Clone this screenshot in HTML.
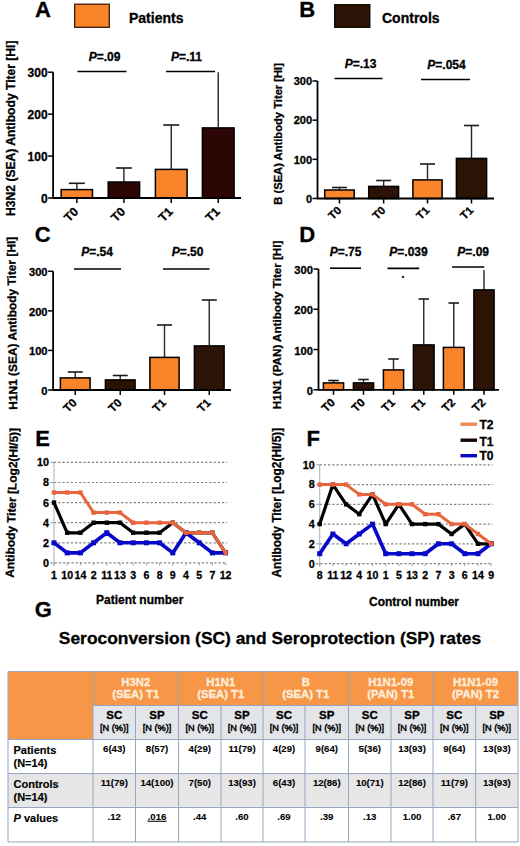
<!DOCTYPE html><html><head><meta charset="utf-8"><style>
html,body{margin:0;padding:0;background:#fff;width:520px;height:846px;overflow:hidden}
svg{display:block}
text{font-family:"Liberation Sans",sans-serif;stroke:#000;stroke-width:0.3px}
</style></head><body>
<svg width="520" height="846" viewBox="0 0 520 846">
<rect width="520" height="846" fill="#fff"/>
<text x="35" y="17.3" font-size="22" text-anchor="start" font-weight="bold" fill="#000" >A</text>
<text x="299.3" y="17.4" font-size="22" text-anchor="start" font-weight="bold" fill="#000" >B</text>
<text x="34.8" y="242.3" font-size="22" text-anchor="start" font-weight="bold" fill="#000" >C</text>
<text x="299.3" y="242.4" font-size="22" text-anchor="start" font-weight="bold" fill="#000" >D</text>
<text x="35.3" y="445.6" font-size="22" text-anchor="start" font-weight="bold" fill="#000" >E</text>
<text x="306.5" y="445.7" font-size="22" text-anchor="start" font-weight="bold" fill="#000" >F</text>
<text x="34.8" y="617.4" font-size="22" text-anchor="start" font-weight="bold" fill="#000" >G</text>
<rect x="74.7" y="4.2" width="34.6" height="23.1" fill="#FA8429" stroke="#3a1805" stroke-width="1.3"/>
<text x="129" y="23.1" font-size="14" text-anchor="start" font-weight="bold" fill="#000" >Patients</text>
<rect x="334.7" y="4.7" width="35.1" height="22.6" fill="#2C1305" stroke="#0a0401" stroke-width="1.3"/>
<text x="382" y="22.8" font-size="14" text-anchor="start" font-weight="bold" fill="#000" >Controls</text>
<line x1="53.1" y1="72.2" x2="53.1" y2="198.75" stroke="#000" stroke-width="1.8" />
<line x1="48.1" y1="198.0" x2="53.1" y2="198.0" stroke="#000" stroke-width="1.5" />
<text x="47.6" y="202.6" font-size="12" text-anchor="end" font-weight="bold" fill="#000" >0</text>
<line x1="48.1" y1="156.06666666666666" x2="53.1" y2="156.06666666666666" stroke="#000" stroke-width="1.5" />
<text x="47.6" y="160.66666666666666" font-size="12" text-anchor="end" font-weight="bold" fill="#000" >100</text>
<line x1="48.1" y1="114.13333333333333" x2="53.1" y2="114.13333333333333" stroke="#000" stroke-width="1.5" />
<text x="47.6" y="118.73333333333332" font-size="12" text-anchor="end" font-weight="bold" fill="#000" >200</text>
<line x1="48.1" y1="72.2" x2="53.1" y2="72.2" stroke="#000" stroke-width="1.5" />
<text x="47.6" y="76.8" font-size="12" text-anchor="end" font-weight="bold" fill="#000" >300</text>
<line x1="76.85" y1="183.3" x2="76.85" y2="190.2" stroke="#262626" stroke-width="1.4" />
<line x1="68.85" y1="183.3" x2="84.85" y2="183.3" stroke="#1a1a1a" stroke-width="1.6" />
<rect x="61.199999999999996" y="189.6" width="31.300000000000008" height="8.400000000000011" fill="#FA8429" stroke="#000" stroke-width="1.5"/>
<line x1="123.9" y1="168" x2="123.9" y2="182.6" stroke="#262626" stroke-width="1.4" />
<line x1="115.9" y1="168" x2="131.9" y2="168" stroke="#1a1a1a" stroke-width="1.6" />
<rect x="108.2" y="182.0" width="31.400000000000002" height="16.000000000000007" fill="#2C0604" stroke="#000" stroke-width="1.5"/>
<line x1="171.25" y1="125" x2="171.25" y2="170" stroke="#262626" stroke-width="1.4" />
<line x1="163.25" y1="125" x2="179.25" y2="125" stroke="#1a1a1a" stroke-width="1.6" />
<rect x="155.4" y="169.4" width="31.7" height="28.6" fill="#FA8429" stroke="#000" stroke-width="1.5"/>
<line x1="218.25" y1="72.2" x2="218.25" y2="128.5" stroke="#262626" stroke-width="1.4" />
<rect x="202.4" y="127.9" width="31.7" height="70.1" fill="#2C0604" stroke="#000" stroke-width="1.5"/>
<line x1="53.1" y1="198" x2="241" y2="198" stroke="#000" stroke-width="1.8" />
<line x1="76.85" y1="198" x2="76.85" y2="203" stroke="#000" stroke-width="1.5" />
<text font-size="12.2" font-weight="bold" text-anchor="end" transform="translate(79.05,212.5) rotate(-45)">T0</text>
<line x1="123.9" y1="198" x2="123.9" y2="203" stroke="#000" stroke-width="1.5" />
<text font-size="12.2" font-weight="bold" text-anchor="end" transform="translate(126.10000000000001,212.5) rotate(-45)">T0</text>
<line x1="171.25" y1="198" x2="171.25" y2="203" stroke="#000" stroke-width="1.5" />
<text font-size="12.2" font-weight="bold" text-anchor="end" transform="translate(173.45,212.5) rotate(-45)">T1</text>
<line x1="218.25" y1="198" x2="218.25" y2="203" stroke="#000" stroke-width="1.5" />
<text font-size="12.2" font-weight="bold" text-anchor="end" transform="translate(220.45,212.5) rotate(-45)">T1</text>
<text font-size="12.1" font-weight="bold" text-anchor="middle" transform="translate(14.8,128.2) rotate(-90)">H3N2 (SEA) Antibody Titer [HI]</text>
<line x1="77.5" y1="71.5" x2="126.5" y2="71.5" stroke="#000" stroke-width="1.6" />
<text x="104.6" y="60.8" font-size="12" text-anchor="middle" font-weight="bold"><tspan font-style="italic">P</tspan>=.09</text>
<line x1="166" y1="71.5" x2="215" y2="71.5" stroke="#000" stroke-width="1.6" />
<text x="186.5" y="60.8" font-size="12" text-anchor="middle" font-weight="bold"><tspan font-style="italic">P</tspan>=.11</text>
<line x1="317.5" y1="81" x2="317.5" y2="199.25" stroke="#000" stroke-width="1.8" />
<line x1="312.5" y1="198.5" x2="317.5" y2="198.5" stroke="#000" stroke-width="1.5" />
<text x="312.0" y="202.7" font-size="11" text-anchor="end" font-weight="bold" fill="#000" >0</text>
<line x1="312.5" y1="159.33333333333334" x2="317.5" y2="159.33333333333334" stroke="#000" stroke-width="1.5" />
<text x="312.0" y="163.53333333333333" font-size="11" text-anchor="end" font-weight="bold" fill="#000" >100</text>
<line x1="312.5" y1="120.16666666666667" x2="317.5" y2="120.16666666666667" stroke="#000" stroke-width="1.5" />
<text x="312.0" y="124.36666666666667" font-size="11" text-anchor="end" font-weight="bold" fill="#000" >200</text>
<line x1="312.5" y1="81.0" x2="317.5" y2="81.0" stroke="#000" stroke-width="1.5" />
<text x="312.0" y="85.2" font-size="11" text-anchor="end" font-weight="bold" fill="#000" >300</text>
<line x1="339.45000000000005" y1="187.5" x2="339.45000000000005" y2="190.6" stroke="#262626" stroke-width="1.4" />
<line x1="331.95000000000005" y1="187.5" x2="346.95000000000005" y2="187.5" stroke="#1a1a1a" stroke-width="1.6" />
<rect x="324.7" y="190.0" width="29.50000000000001" height="8.500000000000005" fill="#FA8429" stroke="#000" stroke-width="1.5"/>
<line x1="383.65" y1="180.5" x2="383.65" y2="187" stroke="#262626" stroke-width="1.4" />
<line x1="376.15" y1="180.5" x2="391.15" y2="180.5" stroke="#1a1a1a" stroke-width="1.6" />
<rect x="368.7" y="186.4" width="29.899999999999988" height="12.1" fill="#2B1406" stroke="#000" stroke-width="1.5"/>
<line x1="427.5" y1="164" x2="427.5" y2="180.5" stroke="#262626" stroke-width="1.4" />
<line x1="420.0" y1="164" x2="435.0" y2="164" stroke="#1a1a1a" stroke-width="1.6" />
<rect x="412.9" y="179.9" width="29.2" height="18.6" fill="#FA8429" stroke="#000" stroke-width="1.5"/>
<line x1="471.5" y1="125.5" x2="471.5" y2="159" stroke="#262626" stroke-width="1.4" />
<line x1="464.0" y1="125.5" x2="479.0" y2="125.5" stroke="#1a1a1a" stroke-width="1.6" />
<rect x="456.4" y="158.4" width="30.2" height="40.1" fill="#2B1406" stroke="#000" stroke-width="1.5"/>
<line x1="317.5" y1="198.5" x2="494" y2="198.5" stroke="#000" stroke-width="1.8" />
<line x1="339.45000000000005" y1="198.5" x2="339.45000000000005" y2="203.5" stroke="#000" stroke-width="1.5" />
<text font-size="11.2" font-weight="bold" text-anchor="end" transform="translate(342.05000000000007,211.0) rotate(-45)">T0</text>
<line x1="383.65" y1="198.5" x2="383.65" y2="203.5" stroke="#000" stroke-width="1.5" />
<text font-size="11.2" font-weight="bold" text-anchor="end" transform="translate(386.25,211.0) rotate(-45)">T0</text>
<line x1="427.5" y1="198.5" x2="427.5" y2="203.5" stroke="#000" stroke-width="1.5" />
<text font-size="11.2" font-weight="bold" text-anchor="end" transform="translate(430.1,211.0) rotate(-45)">T1</text>
<line x1="471.5" y1="198.5" x2="471.5" y2="203.5" stroke="#000" stroke-width="1.5" />
<text font-size="11.2" font-weight="bold" text-anchor="end" transform="translate(474.1,211.0) rotate(-45)">T1</text>
<text font-size="11.2" font-weight="bold" text-anchor="middle" transform="translate(282,133.9) rotate(-90)">B (SEA) Antibody Titer [HI]</text>
<line x1="334.5" y1="78.5" x2="382.5" y2="78.5" stroke="#000" stroke-width="1.6" />
<text x="360.5" y="68.2" font-size="12" text-anchor="middle" font-weight="bold"><tspan font-style="italic">P</tspan>=.13</text>
<line x1="421" y1="79.5" x2="470" y2="79.5" stroke="#000" stroke-width="1.6" />
<text x="446.5" y="68.8" font-size="12" text-anchor="middle" font-weight="bold"><tspan font-style="italic">P</tspan>=.054</text>
<line x1="53.1" y1="271.3" x2="53.1" y2="390.75" stroke="#000" stroke-width="1.8" />
<line x1="48.1" y1="390.0" x2="53.1" y2="390.0" stroke="#000" stroke-width="1.5" />
<text x="47.6" y="394.9" font-size="11.2" text-anchor="end" font-weight="bold" fill="#000" >0</text>
<line x1="48.1" y1="350.43333333333334" x2="53.1" y2="350.43333333333334" stroke="#000" stroke-width="1.5" />
<text x="47.6" y="355.3333333333333" font-size="11.2" text-anchor="end" font-weight="bold" fill="#000" >100</text>
<line x1="48.1" y1="310.8666666666667" x2="53.1" y2="310.8666666666667" stroke="#000" stroke-width="1.5" />
<text x="47.6" y="315.76666666666665" font-size="11.2" text-anchor="end" font-weight="bold" fill="#000" >200</text>
<line x1="48.1" y1="271.3" x2="53.1" y2="271.3" stroke="#000" stroke-width="1.5" />
<text x="47.6" y="276.2" font-size="11.2" text-anchor="end" font-weight="bold" fill="#000" >300</text>
<line x1="75.25" y1="372" x2="75.25" y2="378.5" stroke="#262626" stroke-width="1.4" />
<line x1="67.75" y1="372" x2="82.75" y2="372" stroke="#1a1a1a" stroke-width="1.6" />
<rect x="60.4" y="377.9" width="29.7" height="12.1" fill="#FA8429" stroke="#000" stroke-width="1.5"/>
<line x1="120.25" y1="375.5" x2="120.25" y2="380.5" stroke="#262626" stroke-width="1.4" />
<line x1="112.75" y1="375.5" x2="127.75" y2="375.5" stroke="#1a1a1a" stroke-width="1.6" />
<rect x="105.4" y="379.9" width="29.7" height="10.1" fill="#2B1406" stroke="#000" stroke-width="1.5"/>
<line x1="164.5" y1="325" x2="164.5" y2="358" stroke="#262626" stroke-width="1.4" />
<line x1="157.0" y1="325" x2="172.0" y2="325" stroke="#1a1a1a" stroke-width="1.6" />
<rect x="149.9" y="357.4" width="29.2" height="32.6" fill="#FA8429" stroke="#000" stroke-width="1.5"/>
<line x1="209.25" y1="300" x2="209.25" y2="346.5" stroke="#262626" stroke-width="1.4" />
<line x1="201.75" y1="300" x2="216.75" y2="300" stroke="#1a1a1a" stroke-width="1.6" />
<rect x="194.4" y="345.9" width="29.7" height="44.1" fill="#2B1406" stroke="#000" stroke-width="1.5"/>
<line x1="53.1" y1="390" x2="231" y2="390" stroke="#000" stroke-width="1.8" />
<line x1="75.25" y1="390" x2="75.25" y2="395" stroke="#000" stroke-width="1.5" />
<text font-size="11.5" font-weight="bold" text-anchor="end" transform="translate(77.45,403.6) rotate(-45)">T0</text>
<line x1="120.25" y1="390" x2="120.25" y2="395" stroke="#000" stroke-width="1.5" />
<text font-size="11.5" font-weight="bold" text-anchor="end" transform="translate(122.45,403.6) rotate(-45)">T0</text>
<line x1="164.5" y1="390" x2="164.5" y2="395" stroke="#000" stroke-width="1.5" />
<text font-size="11.5" font-weight="bold" text-anchor="end" transform="translate(166.7,403.6) rotate(-45)">T1</text>
<line x1="209.25" y1="390" x2="209.25" y2="395" stroke="#000" stroke-width="1.5" />
<text font-size="11.5" font-weight="bold" text-anchor="end" transform="translate(211.45,403.6) rotate(-45)">T1</text>
<text font-size="11.95" font-weight="bold" text-anchor="middle" transform="translate(16.3,323.2) rotate(-90.7)">H1N1 (SEA) Antibody Titer [HI]</text>
<line x1="74" y1="269" x2="121" y2="269" stroke="#000" stroke-width="1.6" />
<text x="97" y="256.2" font-size="12" text-anchor="middle" font-weight="bold"><tspan font-style="italic">P</tspan>=.54</text>
<line x1="163" y1="269" x2="209.5" y2="269" stroke="#000" stroke-width="1.6" />
<text x="187.5" y="256.2" font-size="12" text-anchor="middle" font-weight="bold"><tspan font-style="italic">P</tspan>=.50</text>
<line x1="318.5" y1="269" x2="318.5" y2="390.55" stroke="#000" stroke-width="1.8" />
<line x1="313.5" y1="389.8" x2="318.5" y2="389.8" stroke="#000" stroke-width="1.5" />
<text x="313.0" y="394.8" font-size="11.2" text-anchor="end" font-weight="bold" fill="#000" >0</text>
<line x1="313.5" y1="349.53333333333336" x2="318.5" y2="349.53333333333336" stroke="#000" stroke-width="1.5" />
<text x="313.0" y="354.53333333333336" font-size="11.2" text-anchor="end" font-weight="bold" fill="#000" >100</text>
<line x1="313.5" y1="309.26666666666665" x2="318.5" y2="309.26666666666665" stroke="#000" stroke-width="1.5" />
<text x="313.0" y="314.26666666666665" font-size="11.2" text-anchor="end" font-weight="bold" fill="#000" >200</text>
<line x1="313.5" y1="269.0" x2="318.5" y2="269.0" stroke="#000" stroke-width="1.5" />
<text x="313.0" y="274.0" font-size="11.2" text-anchor="end" font-weight="bold" fill="#000" >300</text>
<line x1="333.5" y1="380.5" x2="333.5" y2="383.5" stroke="#262626" stroke-width="1.4" />
<line x1="328.25" y1="380.5" x2="338.75" y2="380.5" stroke="#1a1a1a" stroke-width="1.6" />
<rect x="323.4" y="382.9" width="20.2" height="6.900000000000011" fill="#FA8429" stroke="#000" stroke-width="1.5"/>
<line x1="363.5" y1="379.5" x2="363.5" y2="383.5" stroke="#262626" stroke-width="1.4" />
<line x1="358.25" y1="379.5" x2="368.75" y2="379.5" stroke="#1a1a1a" stroke-width="1.6" />
<rect x="353.4" y="382.9" width="20.2" height="6.900000000000011" fill="#2B1406" stroke="#000" stroke-width="1.5"/>
<line x1="393.5" y1="359" x2="393.5" y2="370.5" stroke="#262626" stroke-width="1.4" />
<line x1="388.25" y1="359" x2="398.75" y2="359" stroke="#1a1a1a" stroke-width="1.6" />
<rect x="383.4" y="369.9" width="20.2" height="19.900000000000013" fill="#FA8429" stroke="#000" stroke-width="1.5"/>
<line x1="423.75" y1="299" x2="423.75" y2="345.5" stroke="#262626" stroke-width="1.4" />
<line x1="418.5" y1="299" x2="429.0" y2="299" stroke="#1a1a1a" stroke-width="1.6" />
<rect x="413.4" y="344.9" width="20.7" height="44.90000000000001" fill="#2B1406" stroke="#000" stroke-width="1.5"/>
<line x1="453.75" y1="303" x2="453.75" y2="348" stroke="#262626" stroke-width="1.4" />
<line x1="448.5" y1="303" x2="459.0" y2="303" stroke="#1a1a1a" stroke-width="1.6" />
<rect x="443.4" y="347.4" width="20.7" height="42.40000000000001" fill="#FA8429" stroke="#000" stroke-width="1.5"/>
<line x1="484.0" y1="270" x2="484.0" y2="290.5" stroke="#262626" stroke-width="1.4" />
<rect x="473.9" y="289.9" width="20.2" height="99.9" fill="#2B1406" stroke="#000" stroke-width="1.5"/>
<line x1="318.5" y1="389.8" x2="499" y2="389.8" stroke="#000" stroke-width="1.8" />
<line x1="333.5" y1="389.8" x2="333.5" y2="394.8" stroke="#000" stroke-width="1.5" />
<text font-size="11.5" font-weight="bold" text-anchor="end" transform="translate(335.7,403.2) rotate(-45)">T0</text>
<line x1="363.5" y1="389.8" x2="363.5" y2="394.8" stroke="#000" stroke-width="1.5" />
<text font-size="11.5" font-weight="bold" text-anchor="end" transform="translate(365.7,403.2) rotate(-45)">T0</text>
<line x1="393.5" y1="389.8" x2="393.5" y2="394.8" stroke="#000" stroke-width="1.5" />
<text font-size="11.5" font-weight="bold" text-anchor="end" transform="translate(395.7,403.2) rotate(-45)">T1</text>
<line x1="423.75" y1="389.8" x2="423.75" y2="394.8" stroke="#000" stroke-width="1.5" />
<text font-size="11.5" font-weight="bold" text-anchor="end" transform="translate(425.95,403.2) rotate(-45)">T1</text>
<line x1="453.75" y1="389.8" x2="453.75" y2="394.8" stroke="#000" stroke-width="1.5" />
<text font-size="11.5" font-weight="bold" text-anchor="end" transform="translate(455.95,403.2) rotate(-45)">T2</text>
<line x1="484.0" y1="389.8" x2="484.0" y2="394.8" stroke="#000" stroke-width="1.5" />
<text font-size="11.5" font-weight="bold" text-anchor="end" transform="translate(486.2,403.2) rotate(-45)">T2</text>
<text font-size="11.65" font-weight="bold" text-anchor="middle" transform="translate(281.4,324.9) rotate(-90)">H1N1 (PAN) Antibody Titer [HI]</text>
<line x1="330" y1="268.2" x2="361" y2="268.2" stroke="#000" stroke-width="1.6" />
<text x="345.5" y="256.2" font-size="12" text-anchor="middle" font-weight="bold"><tspan font-style="italic">P</tspan>=.75</text>
<line x1="387.5" y1="268.4" x2="419.2" y2="268.4" stroke="#000" stroke-width="1.6" />
<text x="408.5" y="256.2" font-size="12" text-anchor="middle" font-weight="bold"><tspan font-style="italic">P</tspan>=.039</text>
<line x1="452" y1="267" x2="484.2" y2="267" stroke="#000" stroke-width="1.6" />
<text x="473.2" y="256.2" font-size="12" text-anchor="middle" font-weight="bold"><tspan font-style="italic">P</tspan>=.09</text>
<circle cx="403" cy="277" r="1.3" fill="#333"/>
<line x1="54.0" y1="542.8" x2="227.09999999999997" y2="542.8" stroke="#808080" stroke-width="1.2" stroke-dasharray="2.2 2"/>
<line x1="50.5" y1="542.8" x2="54.0" y2="542.8" stroke="#9a9a9a" stroke-width="1" />
<line x1="54.0" y1="522.6999999999999" x2="227.09999999999997" y2="522.6999999999999" stroke="#808080" stroke-width="1.2" stroke-dasharray="2.2 2"/>
<line x1="50.5" y1="522.6999999999999" x2="54.0" y2="522.6999999999999" stroke="#9a9a9a" stroke-width="1" />
<line x1="54.0" y1="502.59999999999997" x2="227.09999999999997" y2="502.59999999999997" stroke="#808080" stroke-width="1.2" stroke-dasharray="2.2 2"/>
<line x1="50.5" y1="502.59999999999997" x2="54.0" y2="502.59999999999997" stroke="#9a9a9a" stroke-width="1" />
<line x1="54.0" y1="482.5" x2="227.09999999999997" y2="482.5" stroke="#808080" stroke-width="1.2" stroke-dasharray="2.2 2"/>
<line x1="50.5" y1="482.5" x2="54.0" y2="482.5" stroke="#9a9a9a" stroke-width="1" />
<line x1="54.0" y1="462.4" x2="227.09999999999997" y2="462.4" stroke="#808080" stroke-width="1.2" stroke-dasharray="2.2 2"/>
<line x1="50.5" y1="462.4" x2="54.0" y2="462.4" stroke="#9a9a9a" stroke-width="1" />
<line x1="54.0" y1="461.9" x2="54.0" y2="565.9" stroke="#b5b5b5" stroke-width="1.1" />
<line x1="50.5" y1="562.9" x2="227.09999999999997" y2="562.9" stroke="#808080" stroke-width="1.2" stroke-dasharray="2.2 2"/>
<line x1="54.0" y1="562.9" x2="54.0" y2="565.4" stroke="#999" stroke-width="1" />
<line x1="67.2" y1="562.9" x2="67.2" y2="565.4" stroke="#999" stroke-width="1" />
<line x1="80.4" y1="562.9" x2="80.4" y2="565.4" stroke="#999" stroke-width="1" />
<line x1="93.6" y1="562.9" x2="93.6" y2="565.4" stroke="#999" stroke-width="1" />
<line x1="106.8" y1="562.9" x2="106.8" y2="565.4" stroke="#999" stroke-width="1" />
<line x1="120.0" y1="562.9" x2="120.0" y2="565.4" stroke="#999" stroke-width="1" />
<line x1="133.2" y1="562.9" x2="133.2" y2="565.4" stroke="#999" stroke-width="1" />
<line x1="146.4" y1="562.9" x2="146.4" y2="565.4" stroke="#999" stroke-width="1" />
<line x1="159.6" y1="562.9" x2="159.6" y2="565.4" stroke="#999" stroke-width="1" />
<line x1="172.79999999999998" y1="562.9" x2="172.79999999999998" y2="565.4" stroke="#999" stroke-width="1" />
<line x1="186.0" y1="562.9" x2="186.0" y2="565.4" stroke="#999" stroke-width="1" />
<line x1="199.2" y1="562.9" x2="199.2" y2="565.4" stroke="#999" stroke-width="1" />
<line x1="212.39999999999998" y1="562.9" x2="212.39999999999998" y2="565.4" stroke="#999" stroke-width="1" />
<line x1="225.59999999999997" y1="562.9" x2="225.59999999999997" y2="565.4" stroke="#999" stroke-width="1" />
<text x="49.0" y="566.8" font-size="10.8" text-anchor="end" font-weight="bold" fill="#000" >0</text>
<text x="49.0" y="546.6999999999999" font-size="10.8" text-anchor="end" font-weight="bold" fill="#000" >2</text>
<text x="49.0" y="526.5999999999999" font-size="10.8" text-anchor="end" font-weight="bold" fill="#000" >4</text>
<text x="49.0" y="506.49999999999994" font-size="10.8" text-anchor="end" font-weight="bold" fill="#000" >6</text>
<text x="49.0" y="486.4" font-size="10.8" text-anchor="end" font-weight="bold" fill="#000" >8</text>
<text x="49.0" y="466.29999999999995" font-size="10.8" text-anchor="end" font-weight="bold" fill="#000" >10</text>
<text x="54.0" y="578.6" font-size="10.6" text-anchor="middle" font-weight="bold" fill="#000" >1</text>
<text x="67.2" y="578.6" font-size="10.6" text-anchor="middle" font-weight="bold" fill="#000" >10</text>
<text x="80.4" y="578.6" font-size="10.6" text-anchor="middle" font-weight="bold" fill="#000" >14</text>
<text x="93.6" y="578.6" font-size="10.6" text-anchor="middle" font-weight="bold" fill="#000" >2</text>
<text x="106.8" y="578.6" font-size="10.6" text-anchor="middle" font-weight="bold" fill="#000" >11</text>
<text x="120.0" y="578.6" font-size="10.6" text-anchor="middle" font-weight="bold" fill="#000" >13</text>
<text x="133.2" y="578.6" font-size="10.6" text-anchor="middle" font-weight="bold" fill="#000" >3</text>
<text x="146.4" y="578.6" font-size="10.6" text-anchor="middle" font-weight="bold" fill="#000" >6</text>
<text x="159.6" y="578.6" font-size="10.6" text-anchor="middle" font-weight="bold" fill="#000" >8</text>
<text x="172.79999999999998" y="578.6" font-size="10.6" text-anchor="middle" font-weight="bold" fill="#000" >9</text>
<text x="186.0" y="578.6" font-size="10.6" text-anchor="middle" font-weight="bold" fill="#000" >4</text>
<text x="199.2" y="578.6" font-size="10.6" text-anchor="middle" font-weight="bold" fill="#000" >5</text>
<text x="212.39999999999998" y="578.6" font-size="10.6" text-anchor="middle" font-weight="bold" fill="#000" >7</text>
<text x="225.59999999999997" y="578.6" font-size="10.6" text-anchor="middle" font-weight="bold" fill="#000" >12</text>
<polyline points="54.0,542.8 67.2,552.9 80.4,552.9 93.6,542.8 106.8,532.8 120.0,542.8 133.2,542.8 146.4,542.8 159.6,542.8 172.8,552.9 186.0,532.8 199.2,542.8 212.4,552.9 225.6,552.9" fill="none" stroke="#0808C8" stroke-width="3.6" stroke-linejoin="round"/>
<rect x="51.5" y="540.3" width="5.0" height="5.0" fill="#0808C8"/>
<rect x="64.7" y="550.4" width="5.0" height="5.0" fill="#0808C8"/>
<rect x="77.9" y="550.4" width="5.0" height="5.0" fill="#0808C8"/>
<rect x="91.1" y="540.3" width="5.0" height="5.0" fill="#0808C8"/>
<rect x="104.3" y="530.2" width="5.0" height="5.0" fill="#0808C8"/>
<rect x="117.5" y="540.3" width="5.0" height="5.0" fill="#0808C8"/>
<rect x="130.7" y="540.3" width="5.0" height="5.0" fill="#0808C8"/>
<rect x="143.9" y="540.3" width="5.0" height="5.0" fill="#0808C8"/>
<rect x="157.1" y="540.3" width="5.0" height="5.0" fill="#0808C8"/>
<rect x="170.3" y="550.4" width="5.0" height="5.0" fill="#0808C8"/>
<rect x="183.5" y="530.2" width="5.0" height="5.0" fill="#0808C8"/>
<rect x="196.7" y="540.3" width="5.0" height="5.0" fill="#0808C8"/>
<rect x="209.9" y="550.4" width="5.0" height="5.0" fill="#0808C8"/>
<rect x="223.1" y="550.4" width="5.0" height="5.0" fill="#0808C8"/>
<polyline points="54.0,502.6 67.2,532.8 80.4,532.8 93.6,522.7 106.8,522.7 120.0,522.7 133.2,532.8 146.4,532.8 159.6,532.8 172.8,522.7 186.0,532.8 199.2,532.8 212.4,532.8 225.6,552.9" fill="none" stroke="#000" stroke-width="3.2" stroke-linejoin="round"/>
<rect x="51.8" y="500.4" width="4.4" height="4.4" fill="#000"/>
<rect x="65.0" y="530.5" width="4.4" height="4.4" fill="#000"/>
<rect x="78.2" y="530.5" width="4.4" height="4.4" fill="#000"/>
<rect x="91.4" y="520.5" width="4.4" height="4.4" fill="#000"/>
<rect x="104.6" y="520.5" width="4.4" height="4.4" fill="#000"/>
<rect x="117.8" y="520.5" width="4.4" height="4.4" fill="#000"/>
<rect x="131.0" y="530.5" width="4.4" height="4.4" fill="#000"/>
<rect x="144.2" y="530.5" width="4.4" height="4.4" fill="#000"/>
<rect x="157.4" y="530.5" width="4.4" height="4.4" fill="#000"/>
<rect x="170.6" y="520.5" width="4.4" height="4.4" fill="#000"/>
<rect x="183.8" y="530.5" width="4.4" height="4.4" fill="#000"/>
<rect x="197.0" y="530.5" width="4.4" height="4.4" fill="#000"/>
<rect x="210.2" y="530.5" width="4.4" height="4.4" fill="#000"/>
<rect x="223.4" y="550.6" width="4.4" height="4.4" fill="#000"/>
<polyline points="54.0,492.5 67.2,492.5 80.4,492.5 93.6,512.6 106.8,512.6 120.0,512.6 133.2,522.7 146.4,522.7 159.6,522.7 172.8,522.7 186.0,532.8 199.2,532.8 212.4,532.8 225.6,552.9" fill="none" stroke="#E8643C" stroke-width="3.0" stroke-linejoin="round"/>
<rect x="51.8" y="490.3" width="4.4" height="4.4" fill="#E8643C"/>
<rect x="65.0" y="490.3" width="4.4" height="4.4" fill="#E8643C"/>
<rect x="78.2" y="490.3" width="4.4" height="4.4" fill="#E8643C"/>
<rect x="91.4" y="510.4" width="4.4" height="4.4" fill="#E8643C"/>
<rect x="104.6" y="510.4" width="4.4" height="4.4" fill="#E8643C"/>
<rect x="117.8" y="510.4" width="4.4" height="4.4" fill="#E8643C"/>
<rect x="131.0" y="520.5" width="4.4" height="4.4" fill="#E8643C"/>
<rect x="144.2" y="520.5" width="4.4" height="4.4" fill="#E8643C"/>
<rect x="157.4" y="520.5" width="4.4" height="4.4" fill="#E8643C"/>
<rect x="170.6" y="520.5" width="4.4" height="4.4" fill="#E8643C"/>
<rect x="183.8" y="530.5" width="4.4" height="4.4" fill="#E8643C"/>
<rect x="197.0" y="530.5" width="4.4" height="4.4" fill="#E8643C"/>
<rect x="210.2" y="530.5" width="4.4" height="4.4" fill="#E8643C"/>
<rect x="223.4" y="550.6" width="4.4" height="4.4" fill="#E8643C"/>
<text font-size="11.9" font-weight="bold" text-anchor="middle" transform="translate(15.9,502.9) rotate(-88.3)">Antibody Titer [Log2(HI/5)]</text>
<line x1="319.7" y1="543.84" x2="492.7" y2="543.84" stroke="#808080" stroke-width="1.2" stroke-dasharray="2.2 2"/>
<line x1="316.2" y1="543.84" x2="319.7" y2="543.84" stroke="#9a9a9a" stroke-width="1" />
<line x1="319.7" y1="524.08" x2="492.7" y2="524.08" stroke="#808080" stroke-width="1.2" stroke-dasharray="2.2 2"/>
<line x1="316.2" y1="524.08" x2="319.7" y2="524.08" stroke="#9a9a9a" stroke-width="1" />
<line x1="319.7" y1="504.32" x2="492.7" y2="504.32" stroke="#808080" stroke-width="1.2" stroke-dasharray="2.2 2"/>
<line x1="316.2" y1="504.32" x2="319.7" y2="504.32" stroke="#9a9a9a" stroke-width="1" />
<line x1="319.7" y1="484.56" x2="492.7" y2="484.56" stroke="#808080" stroke-width="1.2" stroke-dasharray="2.2 2"/>
<line x1="316.2" y1="484.56" x2="319.7" y2="484.56" stroke="#9a9a9a" stroke-width="1" />
<line x1="319.7" y1="464.8" x2="492.7" y2="464.8" stroke="#808080" stroke-width="1.2" stroke-dasharray="2.2 2"/>
<line x1="316.2" y1="464.8" x2="319.7" y2="464.8" stroke="#9a9a9a" stroke-width="1" />
<line x1="319.7" y1="464.3" x2="319.7" y2="566.6" stroke="#b5b5b5" stroke-width="1.1" />
<line x1="316.2" y1="563.6" x2="492.7" y2="563.6" stroke="#808080" stroke-width="1.2" stroke-dasharray="2.2 2"/>
<line x1="319.7" y1="563.6" x2="319.7" y2="566.1" stroke="#999" stroke-width="1" />
<line x1="332.89230769230767" y1="563.6" x2="332.89230769230767" y2="566.1" stroke="#999" stroke-width="1" />
<line x1="346.08461538461535" y1="563.6" x2="346.08461538461535" y2="566.1" stroke="#999" stroke-width="1" />
<line x1="359.2769230769231" y1="563.6" x2="359.2769230769231" y2="566.1" stroke="#999" stroke-width="1" />
<line x1="372.46923076923076" y1="563.6" x2="372.46923076923076" y2="566.1" stroke="#999" stroke-width="1" />
<line x1="385.66153846153844" y1="563.6" x2="385.66153846153844" y2="566.1" stroke="#999" stroke-width="1" />
<line x1="398.8538461538461" y1="563.6" x2="398.8538461538461" y2="566.1" stroke="#999" stroke-width="1" />
<line x1="412.04615384615386" y1="563.6" x2="412.04615384615386" y2="566.1" stroke="#999" stroke-width="1" />
<line x1="425.23846153846154" y1="563.6" x2="425.23846153846154" y2="566.1" stroke="#999" stroke-width="1" />
<line x1="438.4307692307692" y1="563.6" x2="438.4307692307692" y2="566.1" stroke="#999" stroke-width="1" />
<line x1="451.62307692307695" y1="563.6" x2="451.62307692307695" y2="566.1" stroke="#999" stroke-width="1" />
<line x1="464.8153846153846" y1="563.6" x2="464.8153846153846" y2="566.1" stroke="#999" stroke-width="1" />
<line x1="478.0076923076923" y1="563.6" x2="478.0076923076923" y2="566.1" stroke="#999" stroke-width="1" />
<line x1="491.2" y1="563.6" x2="491.2" y2="566.1" stroke="#999" stroke-width="1" />
<text x="314.7" y="567.5" font-size="10.8" text-anchor="end" font-weight="bold" fill="#000" >0</text>
<text x="314.7" y="547.74" font-size="10.8" text-anchor="end" font-weight="bold" fill="#000" >2</text>
<text x="314.7" y="527.98" font-size="10.8" text-anchor="end" font-weight="bold" fill="#000" >4</text>
<text x="314.7" y="508.21999999999997" font-size="10.8" text-anchor="end" font-weight="bold" fill="#000" >6</text>
<text x="314.7" y="488.46" font-size="10.8" text-anchor="end" font-weight="bold" fill="#000" >8</text>
<text x="314.7" y="468.7" font-size="10.8" text-anchor="end" font-weight="bold" fill="#000" >10</text>
<text x="319.7" y="579.0" font-size="10.6" text-anchor="middle" font-weight="bold" fill="#000" >8</text>
<text x="332.89230769230767" y="579.0" font-size="10.6" text-anchor="middle" font-weight="bold" fill="#000" >11</text>
<text x="346.08461538461535" y="579.0" font-size="10.6" text-anchor="middle" font-weight="bold" fill="#000" >12</text>
<text x="359.2769230769231" y="579.0" font-size="10.6" text-anchor="middle" font-weight="bold" fill="#000" >4</text>
<text x="372.46923076923076" y="579.0" font-size="10.6" text-anchor="middle" font-weight="bold" fill="#000" >10</text>
<text x="385.66153846153844" y="579.0" font-size="10.6" text-anchor="middle" font-weight="bold" fill="#000" >1</text>
<text x="398.8538461538461" y="579.0" font-size="10.6" text-anchor="middle" font-weight="bold" fill="#000" >5</text>
<text x="412.04615384615386" y="579.0" font-size="10.6" text-anchor="middle" font-weight="bold" fill="#000" >13</text>
<text x="425.23846153846154" y="579.0" font-size="10.6" text-anchor="middle" font-weight="bold" fill="#000" >2</text>
<text x="438.4307692307692" y="579.0" font-size="10.6" text-anchor="middle" font-weight="bold" fill="#000" >7</text>
<text x="451.62307692307695" y="579.0" font-size="10.6" text-anchor="middle" font-weight="bold" fill="#000" >3</text>
<text x="464.8153846153846" y="579.0" font-size="10.6" text-anchor="middle" font-weight="bold" fill="#000" >6</text>
<text x="478.0076923076923" y="579.0" font-size="10.6" text-anchor="middle" font-weight="bold" fill="#000" >14</text>
<text x="491.2" y="579.0" font-size="10.6" text-anchor="middle" font-weight="bold" fill="#000" >9</text>
<polyline points="319.7,553.7 332.9,534.0 346.1,543.8 359.3,534.0 372.5,524.1 385.7,553.7 398.9,553.7 412.0,553.7 425.2,553.7 438.4,543.8 451.6,543.8 464.8,553.7 478.0,553.7 491.2,543.8" fill="none" stroke="#0808C8" stroke-width="3.6" stroke-linejoin="round"/>
<rect x="317.2" y="551.2" width="5.0" height="5.0" fill="#0808C8"/>
<rect x="330.4" y="531.5" width="5.0" height="5.0" fill="#0808C8"/>
<rect x="343.6" y="541.3" width="5.0" height="5.0" fill="#0808C8"/>
<rect x="356.8" y="531.5" width="5.0" height="5.0" fill="#0808C8"/>
<rect x="370.0" y="521.6" width="5.0" height="5.0" fill="#0808C8"/>
<rect x="383.2" y="551.2" width="5.0" height="5.0" fill="#0808C8"/>
<rect x="396.4" y="551.2" width="5.0" height="5.0" fill="#0808C8"/>
<rect x="409.5" y="551.2" width="5.0" height="5.0" fill="#0808C8"/>
<rect x="422.7" y="551.2" width="5.0" height="5.0" fill="#0808C8"/>
<rect x="435.9" y="541.3" width="5.0" height="5.0" fill="#0808C8"/>
<rect x="449.1" y="541.3" width="5.0" height="5.0" fill="#0808C8"/>
<rect x="462.3" y="551.2" width="5.0" height="5.0" fill="#0808C8"/>
<rect x="475.5" y="551.2" width="5.0" height="5.0" fill="#0808C8"/>
<rect x="488.7" y="541.3" width="5.0" height="5.0" fill="#0808C8"/>
<polyline points="319.7,524.1 332.9,484.6 346.1,504.3 359.3,514.2 372.5,494.4 385.7,524.1 398.9,504.3 412.0,524.1 425.2,524.1 438.4,524.1 451.6,534.0 464.8,524.1 478.0,543.8 491.2,543.8" fill="none" stroke="#000" stroke-width="3.2" stroke-linejoin="round"/>
<rect x="317.5" y="521.9" width="4.4" height="4.4" fill="#000"/>
<rect x="330.7" y="482.4" width="4.4" height="4.4" fill="#000"/>
<rect x="343.9" y="502.1" width="4.4" height="4.4" fill="#000"/>
<rect x="357.1" y="512.0" width="4.4" height="4.4" fill="#000"/>
<rect x="370.3" y="492.2" width="4.4" height="4.4" fill="#000"/>
<rect x="383.5" y="521.9" width="4.4" height="4.4" fill="#000"/>
<rect x="396.7" y="502.1" width="4.4" height="4.4" fill="#000"/>
<rect x="409.8" y="521.9" width="4.4" height="4.4" fill="#000"/>
<rect x="423.0" y="521.9" width="4.4" height="4.4" fill="#000"/>
<rect x="436.2" y="521.9" width="4.4" height="4.4" fill="#000"/>
<rect x="449.4" y="531.8" width="4.4" height="4.4" fill="#000"/>
<rect x="462.6" y="521.9" width="4.4" height="4.4" fill="#000"/>
<rect x="475.8" y="541.6" width="4.4" height="4.4" fill="#000"/>
<rect x="489.0" y="541.6" width="4.4" height="4.4" fill="#000"/>
<polyline points="319.7,484.6 332.9,484.6 346.1,484.6 359.3,494.4 372.5,494.4 385.7,504.3 398.9,504.3 412.0,504.3 425.2,514.2 438.4,514.2 451.6,524.1 464.8,524.1 478.0,534.0 491.2,543.8" fill="none" stroke="#E8643C" stroke-width="3.0" stroke-linejoin="round"/>
<rect x="317.5" y="482.4" width="4.4" height="4.4" fill="#E8643C"/>
<rect x="330.7" y="482.4" width="4.4" height="4.4" fill="#E8643C"/>
<rect x="343.9" y="482.4" width="4.4" height="4.4" fill="#E8643C"/>
<rect x="357.1" y="492.2" width="4.4" height="4.4" fill="#E8643C"/>
<rect x="370.3" y="492.2" width="4.4" height="4.4" fill="#E8643C"/>
<rect x="383.5" y="502.1" width="4.4" height="4.4" fill="#E8643C"/>
<rect x="396.7" y="502.1" width="4.4" height="4.4" fill="#E8643C"/>
<rect x="409.8" y="502.1" width="4.4" height="4.4" fill="#E8643C"/>
<rect x="423.0" y="512.0" width="4.4" height="4.4" fill="#E8643C"/>
<rect x="436.2" y="512.0" width="4.4" height="4.4" fill="#E8643C"/>
<rect x="449.4" y="521.9" width="4.4" height="4.4" fill="#E8643C"/>
<rect x="462.6" y="521.9" width="4.4" height="4.4" fill="#E8643C"/>
<rect x="475.8" y="531.8" width="4.4" height="4.4" fill="#E8643C"/>
<rect x="489.0" y="541.6" width="4.4" height="4.4" fill="#E8643C"/>
<text font-size="11.9" font-weight="bold" text-anchor="middle" transform="translate(281.4,502.7) rotate(-90)">Antibody Titer [Log2(HI/5)]</text>
<line x1="460.5" y1="424.2" x2="477" y2="424.2" stroke="#EE8A52" stroke-width="3.4" />
<text x="479.5" y="428.5" font-size="12" text-anchor="start" font-weight="bold" fill="#000" >T2</text>
<line x1="460.5" y1="440.2" x2="477" y2="440.2" stroke="#120604" stroke-width="3.4" />
<text x="479.5" y="445.8" font-size="12" text-anchor="start" font-weight="bold" fill="#000" >T1</text>
<line x1="460.5" y1="455.7" x2="477" y2="455.7" stroke="#0808C8" stroke-width="3.4" />
<text x="479.5" y="460.0" font-size="12" text-anchor="start" font-weight="bold" fill="#000" >T0</text>
<text x="96" y="603.8" font-size="12" text-anchor="start" font-weight="bold" fill="#000" >Patient number</text>
<text x="369" y="605.5" font-size="12" text-anchor="start" font-weight="bold" fill="#000" >Control number</text>
<text x="270" y="644" font-size="17.4" text-anchor="middle" font-weight="bold" fill="#000" >Seroconversion (SC) and Seroprotection (SP) rates</text>
<rect x="8" y="671.5" width="510" height="68.0" fill="#F79646"/>
<rect x="93" y="705.5" width="425" height="34.0" fill="#E3E5E9"/>
<rect x="8" y="773.5" width="510" height="34.0" fill="#E6E6E6"/>
<line x1="8" y1="671.5" x2="518" y2="671.5" stroke="#97A4C2" stroke-width="1" />
<line x1="93" y1="705.5" x2="518" y2="705.5" stroke="#97A4C2" stroke-width="1" />
<line x1="8" y1="739.5" x2="518" y2="739.5" stroke="#97A4C2" stroke-width="1" />
<line x1="8" y1="773.5" x2="518" y2="773.5" stroke="#97A4C2" stroke-width="1" />
<line x1="8" y1="807.5" x2="518" y2="807.5" stroke="#97A4C2" stroke-width="1" />
<line x1="8" y1="842" x2="518" y2="842" stroke="#97A4C2" stroke-width="1" />
<line x1="8" y1="671.5" x2="8" y2="842" stroke="#97A4C2" stroke-width="1" />
<line x1="93" y1="671.5" x2="93" y2="842" stroke="#97A4C2" stroke-width="1" />
<line x1="135.5" y1="705.5" x2="135.5" y2="842" stroke="#97A4C2" stroke-width="1" />
<line x1="178.5" y1="671.5" x2="178.5" y2="842" stroke="#97A4C2" stroke-width="1" />
<line x1="221" y1="705.5" x2="221" y2="842" stroke="#97A4C2" stroke-width="1" />
<line x1="263" y1="671.5" x2="263" y2="842" stroke="#97A4C2" stroke-width="1" />
<line x1="305" y1="705.5" x2="305" y2="842" stroke="#97A4C2" stroke-width="1" />
<line x1="348.5" y1="671.5" x2="348.5" y2="842" stroke="#97A4C2" stroke-width="1" />
<line x1="391" y1="705.5" x2="391" y2="842" stroke="#97A4C2" stroke-width="1" />
<line x1="433" y1="671.5" x2="433" y2="842" stroke="#97A4C2" stroke-width="1" />
<line x1="475.7" y1="705.5" x2="475.7" y2="842" stroke="#97A4C2" stroke-width="1" />
<line x1="518" y1="671.5" x2="518" y2="842" stroke="#97A4C2" stroke-width="1" />
<text x="135.75" y="685.6" font-size="11.3" text-anchor="middle" font-weight="bold" fill="#FDEEDC" style="stroke:#FDEEDC" >H3N2</text>
<text x="135.75" y="698.3" font-size="11.3" text-anchor="middle" font-weight="bold" fill="#FDEEDC" style="stroke:#FDEEDC" >(SEA) T1</text>
<text x="220.75" y="685.6" font-size="11.3" text-anchor="middle" font-weight="bold" fill="#FDEEDC" style="stroke:#FDEEDC" >H1N1</text>
<text x="220.75" y="698.3" font-size="11.3" text-anchor="middle" font-weight="bold" fill="#FDEEDC" style="stroke:#FDEEDC" >(SEA) T1</text>
<text x="305.75" y="685.6" font-size="11.3" text-anchor="middle" font-weight="bold" fill="#FDEEDC" style="stroke:#FDEEDC" >B</text>
<text x="305.75" y="698.3" font-size="11.3" text-anchor="middle" font-weight="bold" fill="#FDEEDC" style="stroke:#FDEEDC" >(SEA) T1</text>
<text x="390.75" y="685.6" font-size="11.3" text-anchor="middle" font-weight="bold" fill="#FDEEDC" style="stroke:#FDEEDC" >H1N1-09</text>
<text x="390.75" y="698.3" font-size="11.3" text-anchor="middle" font-weight="bold" fill="#FDEEDC" style="stroke:#FDEEDC" >(PAN) T1</text>
<text x="475.5" y="685.6" font-size="11.3" text-anchor="middle" font-weight="bold" fill="#FDEEDC" style="stroke:#FDEEDC" >H1N1-09</text>
<text x="475.5" y="698.3" font-size="11.3" text-anchor="middle" font-weight="bold" fill="#FDEEDC" style="stroke:#FDEEDC" >(PAN) T2</text>
<text x="114.25" y="719.3" font-size="11.5" text-anchor="middle" font-weight="bold" fill="#000" >SC</text>
<text x="114.25" y="731.2" font-size="9.2" text-anchor="middle" font-weight="normal" fill="#000" style="stroke-width:0.45px">[N (%)]</text>
<text x="157.0" y="719.3" font-size="11.5" text-anchor="middle" font-weight="bold" fill="#000" >SP</text>
<text x="157.0" y="731.2" font-size="9.2" text-anchor="middle" font-weight="normal" fill="#000" style="stroke-width:0.45px">[N (%)]</text>
<text x="199.75" y="719.3" font-size="11.5" text-anchor="middle" font-weight="bold" fill="#000" >SC</text>
<text x="199.75" y="731.2" font-size="9.2" text-anchor="middle" font-weight="normal" fill="#000" style="stroke-width:0.45px">[N (%)]</text>
<text x="242.0" y="719.3" font-size="11.5" text-anchor="middle" font-weight="bold" fill="#000" >SP</text>
<text x="242.0" y="731.2" font-size="9.2" text-anchor="middle" font-weight="normal" fill="#000" style="stroke-width:0.45px">[N (%)]</text>
<text x="284.0" y="719.3" font-size="11.5" text-anchor="middle" font-weight="bold" fill="#000" >SC</text>
<text x="284.0" y="731.2" font-size="9.2" text-anchor="middle" font-weight="normal" fill="#000" style="stroke-width:0.45px">[N (%)]</text>
<text x="326.75" y="719.3" font-size="11.5" text-anchor="middle" font-weight="bold" fill="#000" >SP</text>
<text x="326.75" y="731.2" font-size="9.2" text-anchor="middle" font-weight="normal" fill="#000" style="stroke-width:0.45px">[N (%)]</text>
<text x="369.75" y="719.3" font-size="11.5" text-anchor="middle" font-weight="bold" fill="#000" >SC</text>
<text x="369.75" y="731.2" font-size="9.2" text-anchor="middle" font-weight="normal" fill="#000" style="stroke-width:0.45px">[N (%)]</text>
<text x="412.0" y="719.3" font-size="11.5" text-anchor="middle" font-weight="bold" fill="#000" >SP</text>
<text x="412.0" y="731.2" font-size="9.2" text-anchor="middle" font-weight="normal" fill="#000" style="stroke-width:0.45px">[N (%)]</text>
<text x="454.35" y="719.3" font-size="11.5" text-anchor="middle" font-weight="bold" fill="#000" >SC</text>
<text x="454.35" y="731.2" font-size="9.2" text-anchor="middle" font-weight="normal" fill="#000" style="stroke-width:0.45px">[N (%)]</text>
<text x="496.85" y="719.3" font-size="11.5" text-anchor="middle" font-weight="bold" fill="#000" >SP</text>
<text x="496.85" y="731.2" font-size="9.2" text-anchor="middle" font-weight="normal" fill="#000" style="stroke-width:0.45px">[N (%)]</text>
<text x="114.25" y="751.9" font-size="9.6" text-anchor="middle" font-weight="bold" fill="#000" style="stroke-width:0.1px">6(43)</text>
<text x="157.0" y="751.9" font-size="9.6" text-anchor="middle" font-weight="bold" fill="#000" style="stroke-width:0.1px">8(57)</text>
<text x="199.75" y="751.9" font-size="9.6" text-anchor="middle" font-weight="bold" fill="#000" style="stroke-width:0.1px">4(29)</text>
<text x="242.0" y="751.9" font-size="9.6" text-anchor="middle" font-weight="bold" fill="#000" style="stroke-width:0.1px">11(79)</text>
<text x="284.0" y="751.9" font-size="9.6" text-anchor="middle" font-weight="bold" fill="#000" style="stroke-width:0.1px">4(29)</text>
<text x="326.75" y="751.9" font-size="9.6" text-anchor="middle" font-weight="bold" fill="#000" style="stroke-width:0.1px">9(64)</text>
<text x="369.75" y="751.9" font-size="9.6" text-anchor="middle" font-weight="bold" fill="#000" style="stroke-width:0.1px">5(36)</text>
<text x="412.0" y="751.9" font-size="9.6" text-anchor="middle" font-weight="bold" fill="#000" style="stroke-width:0.1px">13(93)</text>
<text x="454.35" y="751.9" font-size="9.6" text-anchor="middle" font-weight="bold" fill="#000" style="stroke-width:0.1px">9(64)</text>
<text x="496.85" y="751.9" font-size="9.6" text-anchor="middle" font-weight="bold" fill="#000" style="stroke-width:0.1px">13(93)</text>
<text x="114.25" y="786.0" font-size="9.6" text-anchor="middle" font-weight="bold" fill="#000" style="stroke-width:0.1px">11(79)</text>
<text x="157.0" y="786.0" font-size="9.6" text-anchor="middle" font-weight="bold" fill="#000" style="stroke-width:0.1px">14(100)</text>
<text x="199.75" y="786.0" font-size="9.6" text-anchor="middle" font-weight="bold" fill="#000" style="stroke-width:0.1px">7(50)</text>
<text x="242.0" y="786.0" font-size="9.6" text-anchor="middle" font-weight="bold" fill="#000" style="stroke-width:0.1px">13(93)</text>
<text x="284.0" y="786.0" font-size="9.6" text-anchor="middle" font-weight="bold" fill="#000" style="stroke-width:0.1px">6(43)</text>
<text x="326.75" y="786.0" font-size="9.6" text-anchor="middle" font-weight="bold" fill="#000" style="stroke-width:0.1px">12(86)</text>
<text x="369.75" y="786.0" font-size="9.6" text-anchor="middle" font-weight="bold" fill="#000" style="stroke-width:0.1px">10(71)</text>
<text x="412.0" y="786.0" font-size="9.6" text-anchor="middle" font-weight="bold" fill="#000" style="stroke-width:0.1px">12(86)</text>
<text x="454.35" y="786.0" font-size="9.6" text-anchor="middle" font-weight="bold" fill="#000" style="stroke-width:0.1px">11(79)</text>
<text x="496.85" y="786.0" font-size="9.6" text-anchor="middle" font-weight="bold" fill="#000" style="stroke-width:0.1px">13(93)</text>
<text x="114.25" y="819.8" font-size="9.6" text-anchor="middle" font-weight="bold" fill="#000" style="stroke-width:0.1px">.12</text>
<text x="157.0" y="819.8" font-size="9.6" text-anchor="middle" font-weight="bold" fill="#000" text-decoration="underline" style="stroke-width:0.1px">.016</text>
<text x="199.75" y="819.8" font-size="9.6" text-anchor="middle" font-weight="bold" fill="#000" style="stroke-width:0.1px">.44</text>
<text x="242.0" y="819.8" font-size="9.6" text-anchor="middle" font-weight="bold" fill="#000" style="stroke-width:0.1px">.60</text>
<text x="284.0" y="819.8" font-size="9.6" text-anchor="middle" font-weight="bold" fill="#000" style="stroke-width:0.1px">.69</text>
<text x="326.75" y="819.8" font-size="9.6" text-anchor="middle" font-weight="bold" fill="#000" style="stroke-width:0.1px">.39</text>
<text x="369.75" y="819.8" font-size="9.6" text-anchor="middle" font-weight="bold" fill="#000" style="stroke-width:0.1px">.13</text>
<text x="412.0" y="819.8" font-size="9.6" text-anchor="middle" font-weight="bold" fill="#000" style="stroke-width:0.1px">1.00</text>
<text x="454.35" y="819.8" font-size="9.6" text-anchor="middle" font-weight="bold" fill="#000" style="stroke-width:0.1px">.67</text>
<text x="496.85" y="819.8" font-size="9.6" text-anchor="middle" font-weight="bold" fill="#000" style="stroke-width:0.1px">1.00</text>
<text x="13.5" y="753.6" font-size="11" text-anchor="start" font-weight="bold" fill="#000" style="stroke-width:0.15px">Patients</text>
<text x="13.5" y="767.1" font-size="11" text-anchor="start" font-weight="bold" fill="#000" style="stroke-width:0.15px">(N=14)</text>
<text x="13.5" y="788.0" font-size="11" text-anchor="start" font-weight="bold" fill="#000" style="stroke-width:0.15px">Controls</text>
<text x="13.5" y="801.1" font-size="11" text-anchor="start" font-weight="bold" fill="#000" style="stroke-width:0.15px">(N=14)</text>
<text x="13.5" y="822" font-size="11" font-weight="bold" style="stroke-width:0.15px"><tspan font-style="italic">P</tspan> values</text>
</svg></body></html>
